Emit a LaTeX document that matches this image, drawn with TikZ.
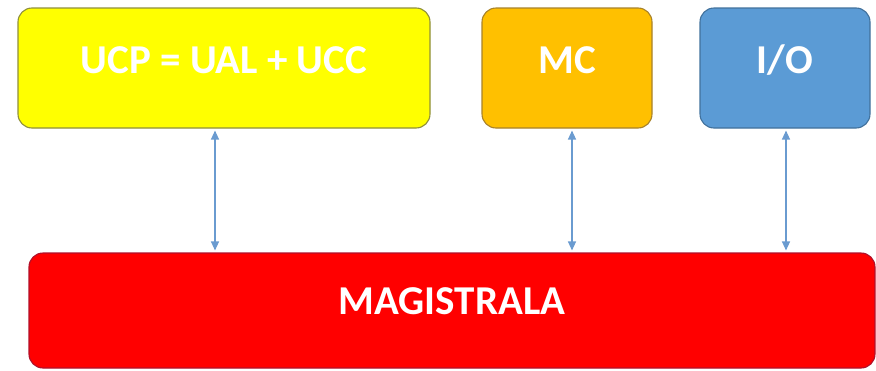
\documentclass[tikz,border=0pt]{standalone}
\usepackage{fontspec}
\setmainfont{Carlito}
\usetikzlibrary{arrows.meta}

\definecolor{ucpfill}{HTML}{FFFF00}
\definecolor{ucpline}{HTML}{8F8F3A}
\definecolor{mcfill}{HTML}{FFC000}
\definecolor{mcline}{HTML}{A8822A}
\definecolor{iofill}{HTML}{5B9BD5}
\definecolor{ioline}{HTML}{41719C}
\definecolor{busfill}{HTML}{FF0000}
\definecolor{busline}{HTML}{B0102A}
\definecolor{linkblue}{HTML}{6A9BD0}

\begin{document}
\begin{tikzpicture}[x=1pt, y=-1pt]
		\tikzset{bx/.style={rectangle, rounded corners=14pt, line width=1.1pt, inner sep=0pt},
			txt/.style={white, font=\fontsize{41}{43}\selectfont\bfseries, inner sep=0pt},
			link/.style={linkblue, line width=1.2pt, {Triangle[length=9pt,width=8pt]}-{Triangle[length=9pt,width=8pt]}, shorten <=2pt, shorten >=2pt}};

		\useasboundingbox (0, 0) rectangle (876, 370);

		\node[bx, fill=ucpfill, draw=ucpline, minimum width=412pt, minimum height=120pt] (ucp) at (224, 68) {};
		\node[bx, fill=mcfill, draw=mcline, minimum width=170pt, minimum height=120pt] (mc) at (567, 68) {};
		\node[bx, fill=iofill, draw=ioline, minimum width=170pt, minimum height=120pt] (io) at (785, 68) {};
		\node[bx, fill=busfill, draw=busline, minimum width=846pt, minimum height=115pt] (bus) at (452, 310.5) {};

		\node[txt] (ucptxt) at ([yshift=8pt]ucp.center) {UCP = UAL + UCC};
		\node[txt] (mctxt) at ([yshift=8pt]mc.center) {MC};
		\node[txt] (iotxt) at ([yshift=8pt]io.center) {I/O};
		\node[txt] (bustxt) at ([yshift=9pt]bus.center) {MAGISTRALA};

		\draw[link] ([xshift=-9pt]ucp.south) to ([xshift=-9pt]ucp.south |- bus.north);
		\draw[link] ([xshift=5pt]mc.south) to ([xshift=5pt]mc.south |- bus.north);
		\draw[link] ([xshift=1pt]io.south) to ([xshift=1pt]io.south |- bus.north);

	\end{tikzpicture}
\end{document}
